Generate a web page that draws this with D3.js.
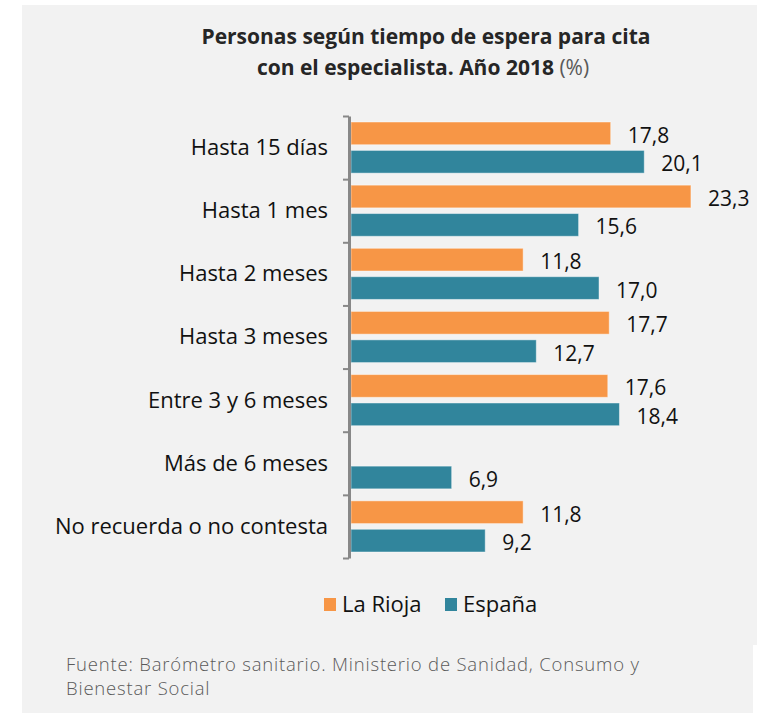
<!DOCTYPE html>
<html>
<head>
<meta charset="utf-8">
<script src="https://cdn.jsdelivr.net/npm/d3@7"></script>
<style>
  html, body { margin: 0; padding: 0; background: #ffffff; }
  svg { display: block; font-family: "Open Sans", "Noto Sans", sans-serif; }
</style>
</head>
<body>
<svg id="chart" width="764" height="713"></svg>
<script>
// ---- data ----
const categories = ["Hasta 15 días", "Hasta 1 mes", "Hasta 2 meses", "Hasta 3 meses",
                    "Entre 3 y 6 meses", "Más de 6 meses", "No recuerda o no contesta"];
const seriesNames = ["La Rioja", "España"];
const laRioja = [17.8, 23.3, 11.8, 17.7, 17.6, null, 11.8];
const espana  = [20.1, 15.6, 17.0, 12.7, 18.4, 6.9, 9.2];
const titleLines = ["Personas según tiempo de espera para cita", "con el especialista. Año 2018"];
const titleUnit = "(%)";
const sourceLines = ["Fuente: Barómetro sanitario. Ministerio de Sanidad, Consumo y", "Bienestar Social"];

// ---- layout ----
const colors = { "La Rioja": "#F79646", "España": "#31859C" };
const svg = d3.select("#chart");

// background panels
svg.append("rect").attr("x", 22).attr("y", 5).attr("width", 735).attr("height", 640).attr("fill", "#F2F2F2");
svg.append("rect").attr("x", 22).attr("y", 643).attr("width", 731).attr("height", 70).attr("fill", "#F2F2F2");

// title
const title = svg.append("text").attr("text-anchor", "middle").attr("fill", "#262626")
  .style("font-size", "21px").style("font-weight", 700);
title.append("tspan").attr("x", 426).attr("y", 44).text(titleLines[0]);
title.append("tspan").attr("x", 423).attr("y", 75).text(titleLines[1] + " ");
title.append("tspan").style("font-weight", 400).attr("fill", "#595959").text(titleUnit);

const plotTop = 116, plotBottom = 558, x0 = 351;
const y = d3.scaleBand().domain(categories).range([plotTop, plotBottom]).paddingInner(0).paddingOuter(0);
const ys = d3.scaleBand().domain(seriesNames).range([6, y.bandwidth() - 6]).paddingInner(0.2);
const x = d3.scaleLinear().domain([0, 25]).range([x0, x0 + 25 * 14.59]);

const rows = categories.map((c, i) => ({ cat: c, vals: [
  { s: "La Rioja", v: laRioja[i] }, { s: "España", v: espana[i] } ] }));

const g = svg.append("g");
const groups = g.selectAll("g.row").data(rows).join("g").attr("class", "row")
  .attr("transform", d => `translate(0,${y(d.cat)})`);

const barData = d => d.vals.filter(e => e.v != null);
groups.selectAll("rect").data(barData).join("rect")
  .attr("x", x(0))
  .attr("y", e => ys(e.s))
  .attr("width", e => x(e.v) - x(0))
  .attr("height", ys.bandwidth())
  .attr("fill", e => colors[e.s])
  .attr("stroke", "#ffffff").attr("stroke-opacity", 0.45).attr("stroke-width", 1);

groups.selectAll("text.val").data(barData).join("text").attr("class", "val")
  .attr("x", e => x(e.v) + 17)
  .attr("y", e => ys(e.s) + ys.bandwidth() / 2)
  .attr("dy", "0.45em")
  .attr("fill", "#111")
  .style("font-size", "21px")
  .text(e => d3.format(".1f")(e.v).replace(".", ","));

// category axis (labels)
const axisLabels = svg.append("g").attr("transform", `translate(${x0 - 2},0)`)
  .call(d3.axisLeft(y).tickSize(0).tickPadding(21));
axisLabels.select(".domain").remove();
axisLabels.selectAll("text").attr("fill", "#111").style("font-size", "22px")
  .style("font-family", "'Open Sans', 'Noto Sans', sans-serif").attr("dy", "0.34em");

// boundary ticks + axis line
const yb = d3.scaleLinear().domain([0, categories.length]).range([plotTop, plotBottom]);
const axisLine = svg.append("g").attr("transform", `translate(${x0 - 2},0)`)
  .call(d3.axisLeft(yb).ticks(categories.length).tickSize(6).tickSizeOuter(0).tickFormat(""));
axisLine.select(".domain").attr("stroke", "#888").attr("stroke-width", 3);
axisLine.selectAll(".tick line").attr("stroke", "#888").attr("stroke-width", 2);

// legend
const legend = svg.append("g");
const legendPos = [{ s: "La Rioja", x: 324 }, { s: "España", x: 445 }];
legend.selectAll("rect").data(legendPos).join("rect")
  .attr("x", d => d.x).attr("y", 598).attr("width", 12).attr("height", 13)
  .attr("fill", d => colors[d.s]);
legend.selectAll("text").data(legendPos).join("text")
  .attr("x", d => d.x + 18).attr("y", 612)
  .attr("fill", "#111").style("font-size", "22px")
  .text(d => d.s);

// source
svg.append("g").selectAll("text").data(sourceLines).join("text")
  .attr("x", 66).attr("y", (d, i) => 671 + i * 23.5)
  .attr("fill", "#5a5a5a").style("font-size", "18.5px").style("font-weight", 300)
  .style("letter-spacing", "0.8px")
  .text(d => d);
</script>
</body>
</html>
